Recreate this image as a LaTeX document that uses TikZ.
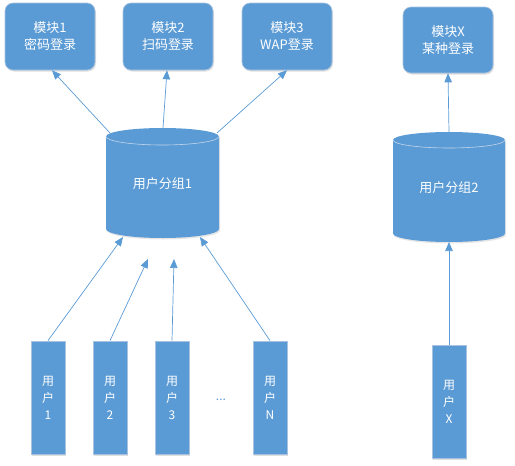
\documentclass[tikz,border=0pt]{standalone}
\usepackage{fontspec}
\setmainfont{Noto Sans CJK SC}
\usetikzlibrary{arrows.meta,shadows}
\definecolor{bfill}{HTML}{5B9BD5}
\definecolor{bline}{HTML}{5B9BD5}
\definecolor{bborder}{HTML}{A8C3E0}
\begin{document}
\begin{tikzpicture}[x=1pt,y=-1pt,
  box/.style={rounded corners=8pt, fill=bfill, draw=bborder, line width=0.6pt,
    drop shadow={opacity=0.25, shadow xshift=1pt, shadow yshift=-1.5pt},
    text=white, font=\fontsize{13}{17}\selectfont, align=center, inner sep=0pt},
  ubox/.style={fill=bfill, draw=bborder, line width=0.8pt,
    drop shadow={opacity=0.25, shadow xshift=1pt, shadow yshift=-1.5pt},
    text=white, font=\fontsize{12}{17}\selectfont, align=center, inner sep=0pt,
    minimum width=34pt, minimum height=113pt},
  lbl/.style={text=white, font=\fontsize{13}{16}\selectfont, inner sep=0pt},
  cyl/.style={fill=bfill},
  cylline/.style={draw=bborder!70!white, line width=0.6pt},
  arr/.style={draw=bline, line width=0.7pt, -{Triangle[length=9pt,width=7.5pt]}}]
\useasboundingbox (0,0) rectangle (515,466);

% top boxes
\node[box, minimum width=90pt, minimum height=67pt] (m1) at (50,36.5) {模块1\\密码登录};
\node[box, minimum width=90pt, minimum height=67pt] (m2) at (168,36.5) {模块2\\扫码登录};
\node[box, minimum width=90pt, minimum height=67pt] (m3) at (287,36.5) {模块3\\WAP登录};
\node[box, minimum width=90pt, minimum height=66pt] (mx) at (448,40) {模块X\\某种登录};

% cylinder 1
\fill[cyl, drop shadow={opacity=0.2, shadow xshift=1pt, shadow yshift=-1.5pt}]
  (106,136.5) -- (106,229) arc[start angle=180, end angle=0, x radius=56.5, y radius=9]
  -- (219,136.5) arc[start angle=0, end angle=-180, x radius=56.5, y radius=8.5] -- cycle;
\draw[cylline] (106,136.5) arc[start angle=180, end angle=0, x radius=56.5, y radius=8.5];
\node[lbl] (g1) at (162.5,184) {用户分组1};
\coordinate (g1t1) at (110,133);
\coordinate (g1t2) at (163,128);
\coordinate (g1t3) at (217,133);

% cylinder 2
\fill[cyl, drop shadow={opacity=0.2, shadow xshift=1pt, shadow yshift=-1.5pt}]
  (393,140) -- (393,233.5) arc[start angle=180, end angle=0, x radius=56, y radius=8.5]
  -- (505,140) arc[start angle=0, end angle=-180, x radius=56, y radius=8] -- cycle;
\draw[cylline] (393,140) arc[start angle=180, end angle=0, x radius=56, y radius=8];
\node[lbl] (g2) at (449,188) {用户分组2};
\coordinate (g2t) at (449,132);
\coordinate (g2b) at (449,242);

% users
\node[ubox] (u1) at (48,397.5) {用\\户\\1};
\node[ubox] (u2) at (110,397.5) {用\\户\\2};
\node[ubox] (u3) at (172,397.5) {用\\户\\3};
\node[ubox] (un) at (270,397.5) {用\\户\\N};
\node[ubox] (ux) at (449,401.5) {用\\户\\X};
\node[text=bfill, font=\fontsize{12}{14}\selectfont, inner sep=0pt] (dots) at (221,400) {...};

% arrow ends at cylinder 1 bottom
\coordinate (e1) at (123,237);
\coordinate (e2) at (148,259);
\coordinate (e3) at (174,259);
\coordinate (e4) at (200,237);

% arrows
\draw[arr] (g1t1) -- ([xshift=2pt]m1.south);
\draw[arr] (g1t2) -- ([xshift=-1pt]m2.south);
\draw[arr] (g1t3) -- (m3.south);
\draw[arr] (g2t) -- (mx.south);
\draw[arr] (u1.north) -- (e1);
\draw[arr] (u2.north) -- (e2);
\draw[arr] (u3.north) -- (e3);
\draw[arr] (un.north) -- (e4);
\draw[arr] (ux.north) -- (g2b);
\end{tikzpicture}
\end{document}
